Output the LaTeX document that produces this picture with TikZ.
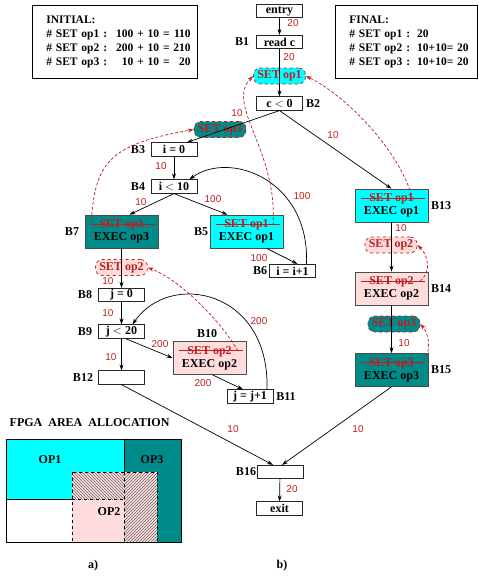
\documentclass[tikz,border=0pt]{standalone}
\usepackage{fontspec}
\setmainfont{Liberation Serif}
\newfontfamily\numfont{Liberation Sans}
\usetikzlibrary{arrows.meta,patterns}
\definecolor{opcyan}{RGB}{0,255,255}
\definecolor{opteal}{RGB}{0,139,139}
\definecolor{oppink}{RGB}{255,221,221}
\definecolor{opred}{RGB}{190,30,30}
\newcommand{\strk}[1]{\textcolor{opred}{\rlap{\hspace{-8pt}\rule[0.28em]{64pt}{0.7pt}}#1}}
\tikzset{
  blk/.style={draw=black!85, fill=white, minimum width=46pt, minimum height=13.5pt, inner sep=0pt},
  bigblk/.style={draw=black!70, minimum width=73pt, minimum height=33pt, inner sep=0pt, align=center},
  pill/.style={draw=opred, dashed, rounded corners=7pt, minimum width=52pt, minimum height=16pt, inner sep=0pt, text=opred},
  num/.style={font=\numfont\fontsize{10}{12}\selectfont, text=opred},
  arr/.style={->, >={Stealth[length=6pt,width=4pt]}},
  setarr/.style={->, >={Stealth[length=6pt,width=4pt]}, opred, dash pattern=on 3pt off 2pt},
  infobox/.style={draw, anchor=north west, minimum height=73pt, inner xsep=14pt, inner ysep=0pt, align=left, font=\fontsize{11.5}{14}\selectfont\bfseries}
}
\begin{document}
\begin{tikzpicture}[x=1pt,y=-1pt,line width=0.7pt,font=\fontsize{12}{13}\selectfont\bfseries]
  \useasboundingbox (0,0) rectangle (479,576);
  % tables
  \node[infobox, text width=137pt] (init) at (32,5) {\begin{tabular}{@{}l@{\hspace{4pt}:\hspace{9pt}}r@{ = }r@{}}
    \multicolumn{3}{@{}l}{INITIAL:}\\
    \# SET op1 & 100 + 10 & 110\\
    \# SET op2 & 200 + 10 & 210\\
    \# SET op3 & 10 + 10 & 20
  \end{tabular}};
  \node[infobox, text width=114pt] (final) at (335,5) {\begin{tabular}{@{}l@{\hspace{4pt}:\hspace{7pt}}l@{}}
    \multicolumn{2}{@{}l}{FINAL:}\\
    \# SET op1 & 20\\
    \# SET op2 & 10+10= 20\\
    \# SET op3 & 10+10= 20
  \end{tabular}};
  % set nodes
  \node[pill, fill=opcyan] (p1) at (279.5,76) {SET op1};
  \node[pill, fill=opteal] (p3) at (220,129.5) {SET op3};
  \node[pill, fill=oppink] (p2) at (121.5,267.5) {SET op2};
  \node[pill, fill=oppink] (q2) at (391,245) {SET op2};
  \node[pill, fill=opteal] (q3) at (394,324) {SET op3};
  % blocks
  \node[blk] (entry) at (279.5,11) {entry};
  \node[blk] (b1) at (279.5,42) {read c};
  \node[blk] (b2) at (279.5,103.5) {c $<$ 0};
  \node[blk] (b3) at (174,149.5) {i = 0};
  \node[blk] (b4) at (174,186.5) {i $<$ 10};
  \node[bigblk, fill=opteal] (b7) at (121.5,231.5) {\strk{SET op3}\\EXEC op3};
  \node[bigblk, fill=opcyan] (b5) at (246.5,231.5) {\strk{SET op1}\\EXEC op1};
  \node[blk] (b6) at (292.5,271) {i = i+1};
  \node[blk] (b8) at (121.5,295) {j = 0};
  \node[blk] (b9) at (121.5,331.5) {j $<$ 20};
  \node[bigblk, fill=oppink] (b10) at (209.5,358) {\strk{SET op2}\\EXEC op2};
  \node[blk] (b12) at (121.5,377.5) {};
  \node[blk] (b11) at (250,396.5) {j = j+1};
  \node[bigblk, fill=opcyan] (b13) at (391.5,205.5) {\strk{SET op1}\\EXEC op1};
  \node[bigblk, fill=oppink] (b14) at (391.5,288.5) {\strk{SET op2}\\EXEC op2};
  \node[bigblk, fill=opteal] (b15) at (391.5,370) {\strk{SET op3}\\EXEC op3};
  \node[blk] (b16) at (280,472) {};
  \node[blk] (exit) at (279.5,508.5) {exit};
  \foreach \x/\y/\t in {242/42/B1, 313/103.5/B2, 138/150/B3, 138/186.5/B4, 201/232/B5,
      260/271/B6, 72/232/B7, 85/295/B8, 85/331.5/B9, 207/334/B10, 286/397/B11,
      83/378/B12, 441/206/B13, 441/289/B14, 441/370/B15, 246/472/B16}
    \node (l\t) at (\x,\y) {\t};
  % control flow
  \draw[arr] (entry) -- (b1);
  \draw[arr] (b1) -- (b2);
  \draw[arr] (b2.south) -- ([xshift=13pt]b3.north);
  \draw[arr] (b2.south) -- (b13.north);
  \draw[arr] (b3) -- (b4);
  \draw[arr] (b4.south) -- ([xshift=8pt]b7.north);
  \draw[arr] (b4.south) -- ([xshift=-19pt]b5.north);
  \draw[arr] ([xshift=20pt]b5.south) -- ([xshift=5pt]b6.north);
  \draw[arr] ([xshift=14pt]b6.north) .. controls (310,180) and (230,150) .. ([xshift=-8pt]b4.north east);
  \draw[arr] (b7) -- (b8);
  \draw[arr] (b8) -- (b9);
  \draw[arr] (b9) -- (b12);
  \draw[arr] ([xshift=4pt]b9.south) -- (b10.west);
  \draw[arr] ([xshift=3pt]b10.south) -- ([xshift=-7pt]b11.north);
  \draw[arr] ([xshift=17pt]b11.north) .. controls (270,290) and (170,270) .. ([xshift=11pt]b9.north);
  \draw[arr] (b12.south) -- ([xshift=-7pt]b16.north);
  \draw[arr] (b13) -- (b14);
  \draw[arr] (b14) -- (b15);
  \draw[arr] (b15.south) -- ([xshift=2pt]b16.north);
  \draw[arr] (b16) -- (exit);
  % moved SET instructions
  \coordinate (s5) at (273,225);
  \coordinate (s13) at (413,200);
  \coordinate (s7) at (91,225);
  \coordinate (s10) at (238,351);
  \coordinate (s14) at (420,281);
  \coordinate (s15) at (420,364);
  \draw[setarr] (s5) .. controls (278,150) and (225,105) .. (p1.west);
  \draw[setarr] (s13) .. controls (400,150) and (345,95) .. (p1.east);
  \draw[setarr] (s7) .. controls (95,165) and (105,145) .. (p3.west);
  \draw[setarr] (s10) .. controls (220,320) and (180,280) .. (p2.east);
  \draw[setarr] (s14) .. controls (432,272) and (428,255) .. (q2.east);
  \draw[setarr] (s15) .. controls (432,355) and (430,335) .. (q3.east);
  % frequencies
  \foreach \x/\y/\t [count=\i] in {293/23/20, 289/57/20, 237/113/10, 333/135/10, 161/166/10,
      141/202/10, 213/199/100, 302/196/100, 259/258/100, 108/281/10, 108/313/10,
      111/357/10, 160/344/200, 203/383/200, 259/321/200, 401/228/10, 404/343/10,
      233/429/10, 358/429/10, 292/489/20}
    \node[num] (w\i) at (\x,\y) {\t};
  % area allocation
  \node[anchor=west] (fpga) at (6,423) {FPGA\ \ AREA\ \ ALLOCATION};
  \filldraw[fill=opcyan] (6,439) rectangle (124,499);
  \filldraw[fill=opteal] (124,439) rectangle (181,542);
  \fill[oppink] (72,472) rectangle (157,542);
  \fill[pattern=north west lines, pattern color=black!60] (72,472) rectangle (124,499);
  \fill[pattern=north east lines, pattern color=black!60] (124,472) rectangle (157,542);
  \draw[dashed] (72,472) rectangle (157,542);
  \draw[dashed] (72,499) -- (124,499) (124,472) -- (124,542);
  \draw (6,439) rectangle (181,542);
  \node (op1) at (50,460) {OP1};
  \node (op3) at (152,460) {OP3};
  \node (op2) at (109,512) {OP2};
  \node (capa) at (93,566) {a)};
  \node (capb) at (282,566) {b)};
\end{tikzpicture}
\end{document}
